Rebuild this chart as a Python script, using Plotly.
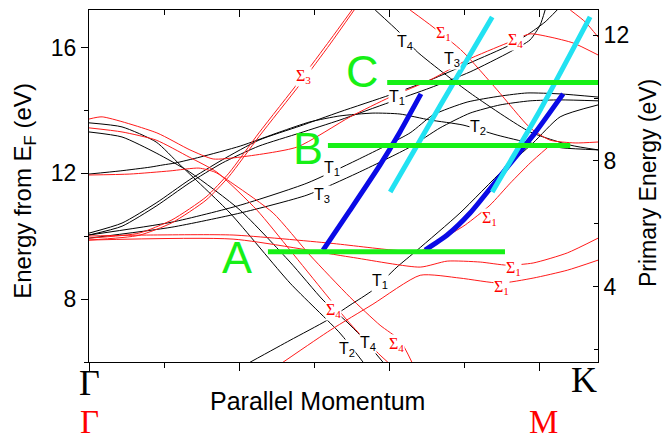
import plotly.graph_objects as go

# ---- band dispersions: parallel momentum (Gamma = 0) vs energy above E_F (eV) ----
# black bands (T symmetry)
kA_x = [0, 0.088, 0.179, 0.243, 0.376, 0.536, 0.669, 0.731]
kA_y = [13.61, 13.48, 13.00, 12.27, 10.74, 8.51, 6.92, 5.99]

kB_x = [0, 0.088, 0.179, 0.269, 0.403, 0.536, 0.624, 0.688, 0.723, 0.784]
kB_y = [13.32, 13.16, 12.65, 12.04, 10.83, 9.18, 7.97, 7.27, 6.85, 5.99]

kM_x = [0, 0.083, 0.163, 0.197, 0.229, 0.296, 0.403, 0.509, 0.589, 0.669, 0.757,
        0.829, 0.909, 0.997, 1.088, 1.176, 1.264, 1.357]
kM_y = [11.98, 12.08, 12.20, 12.27, 12.33, 12.52, 12.87, 13.32, 13.64, 13.83, 13.92,
        13.89, 13.70, 13.54, 13.22, 12.97, 12.81, 12.75]

kP1_x = [0, 0.088, 0.179, 0.267, 0.355, 0.453, 0.563, 0.669, 0.803, 0.909, 1.016,
         1.123, 1.176, 1.216, 1.248]
kP1_y = [10.10, 10.42, 11.06, 11.79, 12.43, 13.06, 13.51, 13.96, 14.50, 14.97, 15.52,
         16.09, 16.47, 16.82, 17.20]

kP2_x = [0, 0.088, 0.179, 0.267, 0.355, 0.453, 0.563, 0.669, 0.803, 0.909, 1.016,
         1.123, 1.176, 1.203, 1.216]
kP2_y = [10.04, 10.32, 10.96, 11.69, 12.33, 12.87, 13.29, 13.70, 14.27, 14.72, 15.23,
         15.87, 16.25, 16.73, 17.20]

kT1_x = [0, 0.221, 0.403, 0.581, 0.715, 0.856, 0.917, 1.008, 1.096, 1.168, 1.256, 1.357]
kT1_y = [10.04, 10.45, 10.99, 11.69, 12.43, 13.29, 13.86, 14.27, 14.46, 14.56, 14.53, 14.43]

kT3_x = [0, 0.221, 0.403, 0.581, 0.715, 0.856, 0.936, 1.016, 1.096, 1.176, 1.256, 1.357]
kT3_y = [9.94, 10.29, 10.74, 11.31, 12.01, 12.84, 13.45, 13.92, 14.18, 14.31, 14.34, 14.31]

kL_x = [0.429, 0.536, 0.635, 0.696, 0.757, 0.821, 0.875, 0.989, 1.104, 1.184, 1.256, 1.357]
kL_y = [5.99, 6.69, 7.33, 7.81, 8.29, 9.02, 9.56, 10.74, 12.11, 12.97, 13.80, 14.18]

kT4_x = [0.763, 0.829, 0.875, 1.016, 1.176, 1.283, 1.357]
kT4_y = [17.20, 16.47, 15.87, 14.56, 13.32, 12.90, 12.75]

# red bands (Sigma symmetry)
rR1_x = [0, 0.035, 0.181, 0.269, 0.331, 0.403, 0.555, 0.696, 0.803, 0.909, 1.008,
         1.115, 1.176, 1.229, 1.291, 1.357]
rR1_y = [13.73, 13.80, 13.29, 12.75, 12.46, 12.52, 12.84, 13.80, 14.43, 14.97, 15.61,
         16.15, 16.44, 16.34, 16.15, 15.77]

rA_x = [0, 0.088, 0.179, 0.267, 0.341, 0.448, 0.536, 0.629, 0.688, 0.717, 0.776, 0.797]
rA_y = [13.45, 13.32, 13.06, 12.52, 12.04, 10.83, 9.56, 8.19, 7.33, 6.95, 6.22, 5.99]

rB_x = [0, 0.109, 0.216, 0.293, 0.336, 0.389, 0.491, 0.589, 0.696, 0.776, 0.829, 0.861]
rB_y = [11.95, 11.98, 12.08, 12.17, 12.04, 11.63, 10.74, 9.40, 8.06, 7.17, 6.69, 5.99]

rS3a_x = [0, 0.133, 0.221, 0.312, 0.373, 0.453, 0.563, 0.643, 0.701]
rS3a_y = [9.94, 10.10, 10.52, 11.25, 12.01, 13.29, 14.97, 16.25, 17.20]
rS3b_x = [0, 0.133, 0.221, 0.312, 0.373, 0.453, 0.563, 0.643, 0.707]
rS3b_y = [9.88, 10.03, 10.43, 11.15, 11.90, 13.17, 14.84, 16.12, 17.20]

rF1_x = [0, 0.163, 0.384, 0.643, 0.811, 0.883, 0.936, 1.003, 1.069, 1.123, 1.176, 1.224]
rF1_y = [10.01, 10.04, 10.04, 9.78, 9.56, 9.53, 9.88, 10.36, 10.99, 11.69, 12.33, 12.84]

rF2_x = [0, 0.384, 0.696, 0.883, 0.955, 1.043, 1.115, 1.184, 1.275, 1.357]
rF2_y = [9.88, 9.91, 9.34, 9.02, 9.21, 9.18, 9.08, 9.15, 9.47, 9.94]

rF3_x = [0.517, 0.643, 0.757, 0.883, 0.989, 1.096, 1.184, 1.275, 1.357]
rF3_y = [5.99, 7.01, 7.84, 8.76, 8.67, 8.51, 8.67, 8.92, 9.24]

rS1_x = [0.856, 0.917, 0.997, 1.088, 1.176, 1.229, 1.296, 1.357]
rS1_y = [17.20, 16.66, 15.87, 14.66, 13.45, 13.06, 12.97, 13.00]

rT_x = [1.283, 1.323, 1.357]
rT_y = [17.20, 16.82, 16.34]

# free-electron-like final-state branches
blue1_x = [0.624, 0.696, 0.776, 0.829, 0.885]
blue1_y = [9.56, 10.83, 12.27, 13.32, 14.53]
blue2_x = [0.896, 0.955, 1.016, 1.109, 1.189, 1.264]
blue2_y = [9.56, 10.04, 10.74, 12.11, 13.29, 14.53]
cyan1_x = [0.803, 0.936, 1.075]
cyan1_y = [11.41, 14.15, 16.98]
cyan2_x = [1.075, 1.203, 1.336]
cyan2_y = [11.41, 14.02, 16.98]

# photon-energy cuts A, B, C
cut_names = ["A", "B", "C"]
cut_x0 = [0.477, 0.637, 0.795]
cut_x1 = [1.109, 1.283, 1.357]
cut_e = [9.51, 12.89, 14.89]
cut_label_x = [0.395, 0.584, 0.728]
cut_label_y = [9.34, 12.78, 15.23]

# symmetry labels on the bands: (text, x, y, colour)
band_labels = [
    ("Σ<sub>3</sub>", 0.571, 15.07, "red"),
    ("T<sub>4</sub>", 0.843, 16.18, "black"),
    ("Σ<sub>1</sub>", 0.944, 16.44, "red"),
    ("Σ<sub>4</sub>", 1.136, 16.22, "red"),
    ("T<sub>3</sub>", 0.968, 15.61, "black"),
    ("T<sub>1</sub>", 0.821, 14.43, "black"),
    ("T<sub>2</sub>", 1.037, 13.45, "black"),
    ("T<sub>1</sub>", 0.648, 12.17, "black"),
    ("T<sub>3</sub>", 0.621, 11.31, "black"),
    ("Σ<sub>1</sub>", 1.069, 10.58, "red"),
    ("Σ<sub>1</sub>", 1.131, 8.99, "red"),
    ("Σ<sub>1</sub>", 1.101, 8.38, "red"),
    ("T<sub>1</sub>", 0.776, 8.57, "black"),
    ("Σ<sub>4</sub>", 0.651, 7.65, "red"),
    ("T<sub>2</sub>", 0.688, 6.41, "black"),
    ("T<sub>4</sub>", 0.744, 6.60, "black"),
    ("Σ<sub>4</sub>", 0.821, 6.57, "red"),
]

E_OFFSET = 4.4          # primary energy = energy from E_F - offset
X_MAX = 1.357
Y_MIN, Y_MAX = 6.0, 17.2

fig = go.Figure()

def band(x, y, color, width=1.0):
    fig.add_trace(go.Scatter(x=x, y=y, mode="lines", showlegend=False, hoverinfo="skip",
                             line=dict(color=color, width=width, shape="spline", smoothing=0.6)))

for bx, by in [(kA_x, kA_y), (kB_x, kB_y), (kM_x, kM_y), (kP1_x, kP1_y), (kP2_x, kP2_y),
               (kT1_x, kT1_y), (kT3_x, kT3_y), (kL_x, kL_y), (kT4_x, kT4_y)]:
    band(bx, by, "black")
for bx, by in [(rR1_x, rR1_y), (rA_x, rA_y), (rB_x, rB_y), (rS3a_x, rS3a_y), (rS3b_x, rS3b_y),
               (rF1_x, rF1_y), (rF2_x, rF2_y), (rF3_x, rF3_y), (rS1_x, rS1_y), (rT_x, rT_y)]:
    band(bx, by, "#ff1a1a")

band(blue1_x, blue1_y, "#0a0ae6", 5)
band(blue2_x, blue2_y, "#0a0ae6", 5)
band(cyan1_x, cyan1_y, "#22e2f2", 5)
band(cyan2_x, cyan2_y, "#22e2f2", 5)

for x0, x1, e in zip(cut_x0, cut_x1, cut_e):
    fig.add_trace(go.Scatter(x=[x0, x1], y=[e, e], mode="lines", showlegend=False,
                             hoverinfo="skip", line=dict(color="#16f016", width=5)))

# empty trace so the top / right axes are drawn
fig.add_trace(go.Scatter(x=[None], y=[None], xaxis="x2", yaxis="y2", showlegend=False))

CENTER = dict(xanchor="center", yanchor="middle", showarrow=False)
SANS = "Liberation Sans"

annotations = []
for txt, x, y, col in band_labels:
    fam = "Liberation Serif" if col == "red" else SANS
    annotations.append(dict(x=x, y=y, xref="x", yref="y", text=txt,
                            font=dict(family=fam, size=16, color=col),
                            bgcolor="white", borderpad=0, **CENTER))
for name, lx, ly in zip(cut_names, cut_label_x, cut_label_y):
    annotations.append(dict(x=lx, y=ly, xref="x", yref="y", text=name,
                            font=dict(family=SANS, size=45, color="#16f016"),
                            **CENTER))

annotations += [
    dict(x=0, y=-0.06, xref="x", yref="paper", text="Γ",
         font=dict(family="Liberation Serif", size=36, color="black"), **CENTER),
    dict(x=0.972, y=-0.05, xref="paper", yref="paper", text="K",
         font=dict(family="Liberation Serif", size=36, color="black"), **CENTER),
    dict(x=0, y=-0.2244, xref="x", yref="paper", text="Γ", showarrow=False,
         xanchor="center", yanchor="bottom", borderpad=0,
         font=dict(family="Liberation Serif", size=33, color="red")),
    dict(x=0.892, y=-0.2244, xref="paper", yref="paper", text="M", showarrow=False,
         xanchor="center", yanchor="bottom", borderpad=0,
         font=dict(family="Liberation Serif", size=33, color="red")),
    dict(x=0.448, y=-0.111, xref="paper", yref="paper", text="Parallel Momentum",
         font=dict(family=SANS, size=25, color="black"), **CENTER),
    dict(x=-0.126, y=0.486, xref="paper", yref="paper", text="Energy from E<sub>F</sub> (eV)",
         textangle=-90, font=dict(family=SANS, size=24, color="black"), **CENTER),
    dict(x=1.098, y=0.508, xref="paper", yref="paper", text="Primary Energy (eV)",
         textangle=-90, font=dict(family=SANS, size=23, color="black"), **CENTER),
]

axis_common = dict(showgrid=False, zeroline=False, showline=True, linecolor="black",
                   linewidth=1, tickcolor="black", tickwidth=1)

fig.update_layout(
    width=664, height=441,
    margin=dict(l=89, r=66, t=10, b=79),
    paper_bgcolor="white", plot_bgcolor="white",
    showlegend=False,
    font=dict(family=SANS, size=20, color="black"),
    xaxis=dict(range=[0, X_MAX], tickvals=[0, 0.4, 0.8, 1.2], ticks="outside", ticklen=8,
               showticklabels=False,
               minor=dict(tickvals=[0.2, 0.6, 1.0], ticks="outside", ticklen=5,
                          tickcolor="black"),
               **axis_common),
    xaxis2=dict(range=[0, X_MAX], overlaying="x", side="top", anchor="y",
                tickvals=[0.4, 0.8, 1.2], ticks="inside", ticklen=7, showticklabels=False,
                minor=dict(tickvals=[0.2, 0.6, 1.0], ticks="inside", ticklen=5,
                           tickcolor="black"),
                **axis_common),
    yaxis=dict(range=[Y_MIN, Y_MAX], tickvals=[8, 12, 16], ticks="outside", ticklen=7,
               tickfont=dict(size=23),
               minor=dict(tickvals=[6, 10, 14], ticks="outside", ticklen=4,
                          tickcolor="black"),
               **axis_common),
    yaxis2=dict(range=[Y_MIN - E_OFFSET, Y_MAX - E_OFFSET], overlaying="y", side="right",
                anchor="x", tickvals=[4, 8, 12], ticks="inside", ticklen=5,
                tickfont=dict(size=23),
                minor=dict(tickvals=[2, 6, 10], ticks="inside", ticklen=4,
                           tickcolor="black"),
                **axis_common),
    annotations=annotations,
)

fig.write_html("out.html")
